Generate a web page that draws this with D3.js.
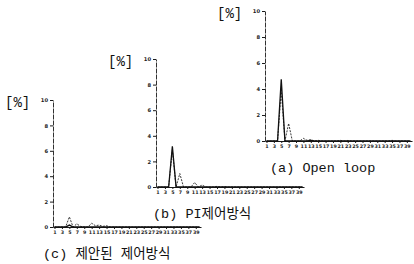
<!DOCTYPE html>
<html lang="ko">
<head>
  <meta charset="UTF-8">
  <title>harmonics</title>
  <script src="https://d3js.org/d3.v7.min.js"></script>
  <style>
    body {
      margin: 0;
      padding: 0;
      background: #fff;
    }
    #chart {
      width: 414px;
      height: 264px;
    }
    .axis text {
      font-family: "DejaVu Sans", sans-serif;
      font-weight: bold;
      fill: #1a1a1a;
    }
    .axis path, .axis line {
      stroke: #1a1a1a;
    }
  </style>
</head>
<body>
  <div id="chart"></div>
<script>
  // harmonic order on the x axis
  const harmonics = d3.range(1, 41)
  const xTickLabels = d3.range(1, 40, 2)
  const yTickLabels = [0, 2, 4, 6, 8, 10]

  // harmonic content [%], harmonics 1..40
  const openLoopDashed = [
    0, 0, 0, 0, 3.9, 0, 1.35, 0, 0, 0,
    0.2, 0.05, 0.1, 0, 0.05, 0, 0, 0, 0, 0,
    0.05, 0, 0.04, 0, 0, 0, 0, 0, 0, 0,
    0, 0, 0, 0, 0.05, 0, 0, 0, 0, 0
  ]
  const openLoopSolid = [
    0, 0, 0, 0, 4.75, 0, 0, 0, 0, 0,
    0, 0, 0.05, 0, 0, 0, 0, 0, 0, 0,
    0, 0, 0, 0, 0, 0, 0, 0, 0, 0,
    0, 0, 0, 0, 0, 0, 0, 0, 0, 0
  ]
  const piDashed = [
    0, 0, 0, 0, 2.9, 0, 1.05, 0, 0, 0,
    0.35, 0, 0.15, 0, 0, 0, 0.05, 0, 0.04, 0,
    0, 0, 0, 0, 0, 0, 0, 0, 0, 0,
    0, 0, 0, 0, 0, 0, 0, 0, 0, 0
  ]
  const piSolid = [
    0, 0, 0, 0, 3.17, 0, 0, 0, 0, 0,
    0, 0, 0, 0, 0, 0, 0, 0, 0, 0,
    0, 0, 0, 0, 0, 0, 0, 0, 0, 0,
    0, 0, 0, 0, 0, 0, 0, 0, 0, 0
  ]
  const proposedDashed = [
    0, 0, 0, 0, 0.8, 0, 0.25, 0.05, 0, 0,
    0.3, 0.1, 0.15, 0.05, 0.1, 0, 0, 0, 0, 0,
    0, 0, 0, 0, 0, 0, 0, 0, 0, 0,
    0, 0, 0, 0, 0, 0, 0, 0, 0, 0
  ]
  const proposedSolid = [
    0, 0, 0, 0, 0.15, 0, 0, 0, 0, 0,
    0, 0, 0, 0, 0, 0, 0, 0, 0, 0,
    0, 0, 0, 0, 0, 0, 0, 0, 0, 0,
    0, 0, 0, 0, 0, 0, 0, 0, 0, 0
  ]
  const captions = [["(a) ", "Open loop"], ["(b) ", "PI제어방식"], ["(c) ", "제안된 제어방식"]]

  const panels = [
    { left: 265, base: 141, w: 147, h: 130, capDx: 5, dashed: openLoopDashed, solid: openLoopSolid, cap: captions[0] },
    { left: 156, base: 187, w: 148, h: 128, capDx: -3, dashed: piDashed, solid: piSolid, cap: captions[1] },
    { left: 53, base: 227, w: 148, h: 127, capDx: -10, dashed: proposedDashed, solid: proposedSolid, cap: captions[2] }
  ]

  const svg = d3.select('#chart')
    .append('svg')
    .attr('width', 414)
    .attr('height', 264)

  panels.forEach(p => {
    const x = d3.scaleLinear().domain([0.6, 40.4]).range([p.left, p.left + p.w])
    const y = d3.scaleLinear().domain([0, 10]).range([p.base, p.base - p.h])
    const g = svg.append('g')

    //  x axis
    const gx = g.append('g')
      .attr('class', 'axis')
      .attr('transform', `translate(0,${p.base})`)
      .call(d3.axisBottom(x).tickValues(xTickLabels).tickSize(2).tickSizeOuter(0).tickPadding(1.5))
    gx.selectAll('text').attr('font-size', 4.8)
    gx.select('.domain').attr('stroke-width', 1.2)

    //  y axis
    const gy = g.append('g')
      .attr('class', 'axis')
      .attr('transform', `translate(${p.left},0)`)
      .call(d3.axisLeft(y).tickValues(yTickLabels).tickSize(3).tickSizeOuter(0).tickPadding(2))
    gy.selectAll('text').attr('font-size', 5.2)
    gy.select('.domain').attr('stroke-dasharray', '5,1').attr('stroke-width', 0.9)

    const line = d3.line()
      .x((d, i) => x(harmonics[i]))
      .y(d => y(d))

    g.append('path')
      .datum(p.dashed)
      .attr('d', line)
      .attr('fill', 'none')
      .attr('stroke', '#222')
      .attr('stroke-width', 0.9)
      .attr('stroke-dasharray', '2,1.2')

    g.append('path')
      .datum(p.solid)
      .attr('d', line)
      .attr('fill', 'none')
      .attr('stroke', '#111')
      .attr('stroke-width', 1.3)

    //  unit label
    g.append('text')
      .attr('x', p.left - 48)
      .attr('y', y(10) + 7)
      .attr('font-family', 'Liberation Mono, monospace')
      .attr('font-size', 14)
      .attr('fill', '#111')
      .text('[%]')

    //  caption
    const t = g.append('text')
      .attr('x', p.left + p.capDx)
      .attr('y', p.base + 31)
      .attr('font-family', '"Liberation Mono", "Noto Sans CJK KR", monospace')
      .attr('font-size', 13.5)
      .attr('fill', '#111')
    t.append('tspan').text(p.cap[0])
    t.append('tspan').text(p.cap[1])
  })
</script>
</body>
</html>
